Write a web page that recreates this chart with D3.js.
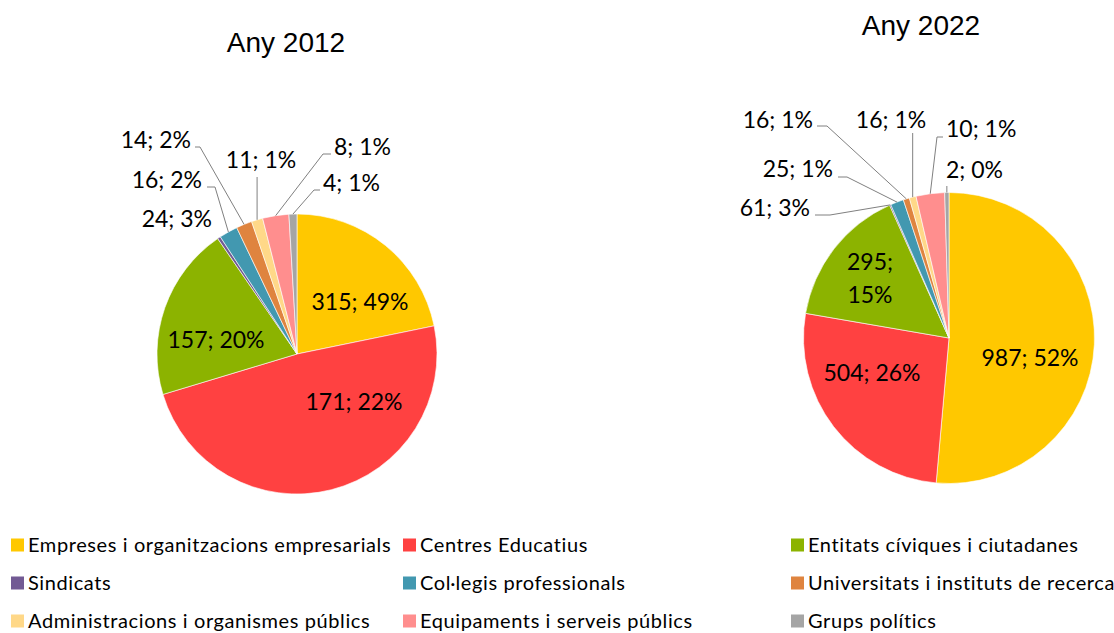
<!DOCTYPE html>
<html>
<head>
<meta charset="utf-8">
<script src="https://cdn.jsdelivr.net/npm/d3@7"></script>
<style>
  body { margin: 0; background: #fff; }
  svg { display: block; }
</style>
</head>
<body>
<svg id="chart" width="1114" height="633"></svg>
<script>
const categories = [
  "Empreses i organitzacions empresarials", "Centres Educatius", "Entitats cíviques i ciutadanes",
  "Sindicats", "Col·legis professionals", "Universitats i instituts de recerca",
  "Administracions i organismes públics", "Equipaments i serveis públics", "Grups polítics"
];
const colors = ["#ffc800", "#ff4141", "#8cb300", "#725a94", "#4298b0", "#df843f", "#ffd888", "#ff8e8e", "#a5a5a5"];

// slice sizes as drawn (percent of the circle)
const share2012 = [21.8, 48.6, 20.1, 0.36, 2.14, 1.83, 1.31, 3.03, 0.92];
const share2022 = [51.4, 26.3, 15.6, 0.14, 1.47, 0.69, 0.75, 3.17, 0.47];

// label texts as printed on each slice
const labels2012 = ["315; 49%", "171; 22%", "157; 20%", "24; 3%", "16; 2%", "14; 2%", "11; 1%", "8; 1%", "4; 1%"];
const labels2022 = ["987; 52%", "504; 26%", "295;\n15%", "61; 3%", "25; 1%", "16; 1%", "16; 1%", "10; 1%", "2; 0%"];

const titles = ["Any 2012", "Any 2022"];

// label placement: x, y (baseline), anchor, leader knee/tip (no knee = no leader)
const place2012 = [
  { x: 360, y: 310, a: "middle", big: true },
  { x: 354, y: 410, a: "middle", big: true },
  { x: 216, y: 348, a: "middle", big: true },
  { x: 212, y: 227, a: "end" },
  { x: 202, y: 188, a: "end", knee: [215, 187], tip: [207, 187] },
  { x: 191, y: 148, a: "end", knee: [200, 147], tip: [195, 147] },
  { x: 261, y: 168, a: "middle", knee: "v", tip: 177 },
  { x: 334, y: 155, a: "start", knee: [323, 154], tip: [331, 154] },
  { x: 323, y: 191, a: "start", knee: [314, 190], tip: [320, 190] }
];
const place2022 = [
  { x: 1030, y: 366, a: "middle", big: true },
  { x: 872, y: 381, a: "middle", big: true },
  { x: 870, y: 270, a: "middle", big: true, lh: 33 },
  { x: 810, y: 216, a: "end", knee: [830, 215], tip: [815, 215] },
  { x: 833, y: 177, a: "end", knee: [847, 177], tip: [838, 177] },
  { x: 813, y: 128, a: "end", knee: [827, 126], tip: [817, 126] },
  { x: 891, y: 128, a: "middle", knee: "v", tip: 133 },
  { x: 946, y: 137, a: "start", knee: [937, 137], tip: [943, 137] },
  { x: 946, y: 178, a: "start", knee: "v", tip: 186 }
];

const pies = [
  { cx: 297, cy: 354, r: 140, title: [286, 52], values: share2012, labels: labels2012, place: place2012 },
  { cx: 949, cy: 338, r: 145.5, title: [921, 35], values: share2022, labels: labels2022, place: place2022 }
];

const svg = d3.select("#chart");
const pie = d3.pie().sort(null).value(d => d);

pies.forEach((p, pi) => {
  svg.append("text")
    .attr("x", p.title[0]).attr("y", p.title[1])
    .attr("text-anchor", "middle")
    .attr("font-family", "Liberation Sans, Arial, sans-serif")
    .attr("font-size", 28).attr("fill", "#000")
    .text(titles[pi]);

  const arc = d3.arc().innerRadius(0).outerRadius(p.r);
  const arcs = pie(p.values);
  const g = svg.append("g").attr("transform", `translate(${p.cx},${p.cy})`);
  g.selectAll("path").data(arcs).enter().append("path")
    .attr("d", arc)
    .attr("fill", (d, i) => colors[i])
    .attr("stroke", "#fff").attr("stroke-width", 0.6);

  // leader lines
  arcs.forEach((d, i) => {
    const pl = p.place[i];
    if (!pl.knee) return;
    const mid = (d.startAngle + d.endAngle) / 2;
    const e = d3.pointRadial(mid, p.r);
    const edge = [p.cx + e[0], p.cy + e[1]];
    const pts = pl.knee === "v" ? [[edge[0], pl.tip], edge] : [pl.tip, pl.knee, edge];
    svg.append("path")
      .attr("d", d3.line()(pts))
      .attr("fill", "none").attr("stroke", "#808080").attr("stroke-width", 1);
  });

  // data labels
  p.labels.forEach((t, i) => {
    const pl = p.place[i];
    const txt = svg.append("text")
      .attr("x", pl.x).attr("y", pl.y)
      .attr("text-anchor", pl.a)
      .attr("font-family", "Lato, sans-serif")
      .attr("font-size", pl.big ? 23 : 23)
      .attr("fill", "#000");
    t.split("\n").forEach((line, li) => {
      txt.append("tspan").attr("x", pl.x).attr("y", pl.y + li * (pl.lh || 0)).text(line);
    });
  });
});

// legend
const legX = [11, 403, 791];
const legY = [545, 583, 621];
const leg = svg.append("g");
categories.forEach((c, i) => {
  const x = legX[i % 3], y = legY[Math.floor(i / 3)];
  leg.append("rect").attr("x", x).attr("y", y - 6.5).attr("width", 13).attr("height", 13).attr("fill", colors[i]);
  leg.append("text").attr("x", x + 17).attr("y", y + 7)
    .attr("font-family", "Lato, sans-serif").attr("font-size", 20)
    .attr("letter-spacing", 0.6).attr("fill", "#000")
    .text(c);
});
</script>
</body>
</html>
